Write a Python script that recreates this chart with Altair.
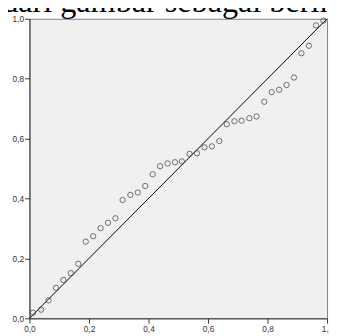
import altair as alt
import pandas as pd

# Observed cumulative probability (x) and expected cumulative probability (y)
obs_x = [0.012, 0.039, 0.064, 0.089, 0.114, 0.139, 0.164, 0.189, 0.214, 0.239,
         0.264, 0.289, 0.313, 0.339, 0.364, 0.389, 0.414, 0.439, 0.464, 0.489,
         0.512, 0.538, 0.563, 0.588, 0.613, 0.638, 0.663, 0.689, 0.713, 0.739,
         0.763, 0.789, 0.814, 0.839, 0.864, 0.889, 0.914, 0.939, 0.963, 0.988]
exp_y = [0.019, 0.029, 0.060, 0.102, 0.128, 0.151, 0.182, 0.256, 0.274, 0.301,
         0.319, 0.334, 0.395, 0.412, 0.420, 0.442, 0.481, 0.508, 0.517, 0.521,
         0.524, 0.549, 0.551, 0.571, 0.574, 0.592, 0.648, 0.658, 0.660, 0.668,
         0.674, 0.723, 0.755, 0.763, 0.779, 0.804, 0.885, 0.910, 0.978, 0.994]
diag = [0.0, 1.0]
ticks = [0.0, 0.2, 0.4, 0.6, 0.8, 1.0]
caption = ["dari gambar sebagai berikut"]

pts = pd.DataFrame({"x": obs_x, "y": exp_y})
line_df = pd.DataFrame({"x": diag, "y": diag})
cap_df = pd.DataFrame({"t": caption})

lab = "replace(format(datum.value, '.1f'), '.', ',')"
xs = alt.Scale(domain=[0, 1], nice=False, zero=False)
ys = alt.Scale(domain=[0, 1], nice=False, zero=False)
ax_common = dict(values=ticks, labelExpr=lab, grid=False, tickSize=5,
                 tickColor="#333333", domainColor="#333333", labelColor="#333333",
                 labelFont="Liberation Sans", labelFontSize=8.5, title=None)

xax = alt.Axis(labelPadding=1, labelAlign="center", **ax_common)
yax = alt.Axis(labelPadding=1, **ax_common)

line = alt.Chart(line_df).mark_line(color="#000000", strokeWidth=1).encode(
    x=alt.X("x:Q", scale=xs, axis=xax),
    y=alt.Y("y:Q", scale=ys, axis=yax),
)

points = alt.Chart(pts).mark_point(shape="circle", filled=False, size=30,
                                   color="#333333", strokeWidth=1).encode(
    x=alt.X("x:Q", scale=xs),
    y=alt.Y("y:Q", scale=ys),
)

text = alt.Chart(cap_df).mark_text(font="Liberation Serif", fontSize=33,
                                   align="left", baseline="alphabetic",
                                   color="#000000").encode(
    text="t:N",
    x=alt.value(-28),
    y=alt.value(-6.5),
)

chart = alt.layer(line, points, text).properties(
    width=305, height=307,
    autosize=alt.AutoSizeParams(type="none"),
    padding={"left": 22, "top": 7, "right": 2, "bottom": 12},
).configure_view(fill="#f0f0f0", stroke="#808080", strokeWidth=1)

chart.save("out.html", embed_options={"renderer": "svg", "actions": False})
